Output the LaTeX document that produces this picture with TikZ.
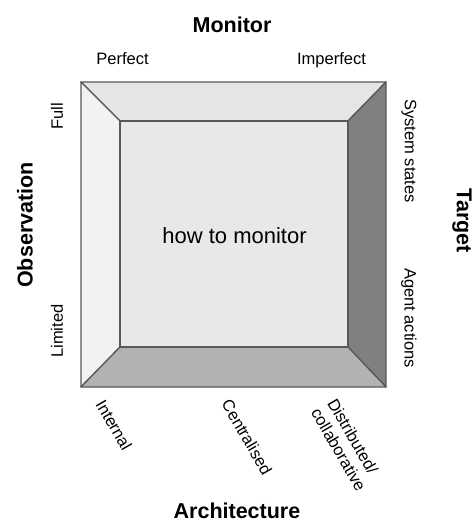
\documentclass[tikz,border=0pt]{standalone}
\usepackage{fontspec}
\setmainfont{Liberation Sans}
\begin{document}
\begin{tikzpicture}[x=1pt,y=-1pt,
  panel/.style={draw=black!65, line width=1.3pt, line join=round},
  small/.style={font=\fontsize{16.5}{19}\selectfont, inner sep=0pt},
  big/.style={font=\fontsize{21.5}{24}\selectfont\bfseries, inner sep=0pt}]
\useasboundingbox (0,0) rectangle (473,523);
% corners
\coordinate (O1) at (81,82);
\coordinate (O2) at (386,82);
\coordinate (O3) at (386,387);
\coordinate (O4) at (81,387);
\coordinate (I1) at (120,121);
\coordinate (I2) at (348,121);
\coordinate (I3) at (348,347);
\coordinate (I4) at (120,347);
% panels
\filldraw[panel, fill=black!10] (O1) -- (O2) -- (I2) -- (I1) -- cycle;
\filldraw[panel, fill=black!5] (O1) -- (I1) -- (I4) -- (O4) -- cycle;
\filldraw[panel, fill=black!50] (O2) -- (O3) -- (I3) -- (I2) -- cycle;
\filldraw[panel, fill=black!30] (O4) -- (I4) -- (I3) -- (O3) -- cycle;
\filldraw[panel, fill=black!9] (I1) rectangle (I3);
% texts
\node[font=\fontsize{22}{26}\selectfont, inner sep=0pt] (center) at (234.5,236) {how to monitor};
\node[big, anchor=base] (monitor) at (232,32) {Monitor};
\node[small, anchor=base] (perfect) at (122.5,64) {Perfect};
\node[small, anchor=base] (imperfect) at (331.5,64) {Imperfect};
\node[big, rotate=90] (observation) at (25,225) {Observation};
\node[small, rotate=90] (full) at (57,116) {Full};
\node[small, rotate=90] (limited) at (57,331) {Limited};
\node[big, rotate=-90] (target) at (462,221) {Target};
\node[small, rotate=-90] (system) at (409,151) {System states};
\node[small, rotate=-90] (agent) at (409,318) {Agent actions};
\node[small, rotate=-60] (internal) at (114,425) {Internal};
\node[small, rotate=-60] (central) at (247,437) {Centralised};
\node[small, rotate=-60, align=left] (distrib) at (347,445) {Distributed/\\collaborative};
\node[big, anchor=base] (arch) at (237,518) {Architecture};
\end{tikzpicture}
\end{document}
